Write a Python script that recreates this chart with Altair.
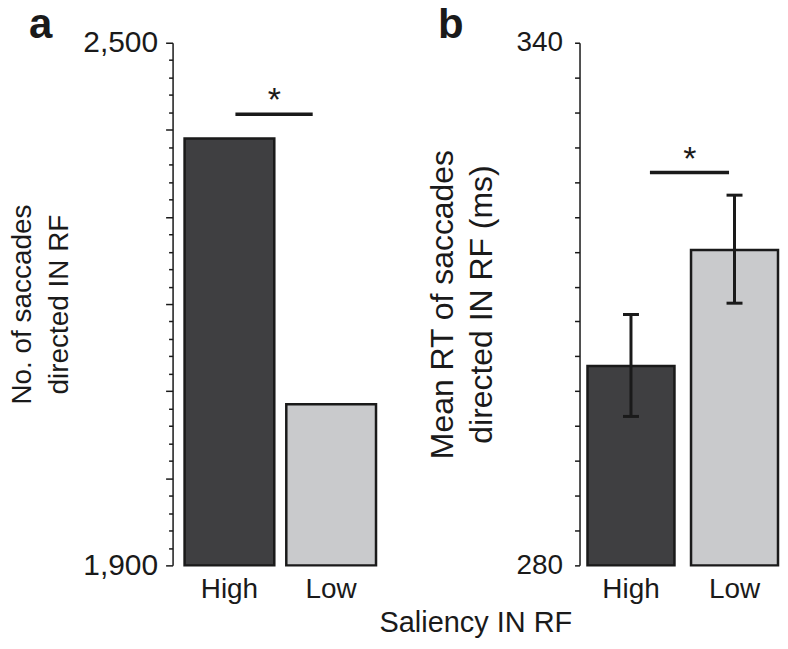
import altair as alt
import pandas as pd

# ---- data ----
categories = ["High", "Low"]
saccade_counts = [2390, 2085]
rt_means = [302.9, 316.2]
rt_err_low = [297.1, 310.1]
rt_err_high = [308.8, 322.5]
count_domain = [1900, 2500]
rt_domain = [280, 340]
count_axis_ticks = list(range(1900, 2501, 20))
rt_axis_ticks = list(range(280, 341, 4))
count_sig_level = [2418]
rt_sig_level = [325.1]
panel_letters = ["a", "b"]

FONT = "Liberation Sans"
DARK = "#3f3f41"
LIGHT = "#c9cacc"
INK = "#1a1a1a"

df_a = pd.DataFrame({"cond": categories, "value": saccade_counts})
df_b = pd.DataFrame({"cond": categories, "value": rt_means,
                     "lo": rt_err_low, "hi": rt_err_high})
sig_a = pd.DataFrame({"cond": [categories[0]], "end": [categories[1]], "y": count_sig_level})
sig_b = pd.DataFrame({"cond": [categories[0]], "end": [categories[1]], "y": rt_sig_level})

color = alt.Color("cond:N", scale=alt.Scale(domain=categories, range=[DARK, LIGHT]), legend=None)


def x_enc(scale):
    return alt.X("cond:N", sort=categories, scale=scale,
                 axis=alt.Axis(title=None, domain=False, ticks=False, labelAngle=0,
                               labelFontSize=28, labelPadding=10, labelColor=INK,
                               labelFont=FONT))


def y_axis(values, lo, hi, title, tfs, tlh, tpad, lfs, lpad, major=None):
    kw = dict(values=values,
              labelExpr=f"datum.value == {lo} || datum.value == {hi} ? format(datum.value, ',') : ''",
              title=title, titleFontSize=tfs, titleFontWeight="normal", titleFont=FONT,
              titleLineHeight=tlh, titlePadding=tpad, titleColor=INK,
              labelFontSize=lfs, labelPadding=lpad, labelFont=FONT, labelColor=INK,
              labelOverlap=False, grid=False, domainColor=INK, tickColor=INK,
              domainWidth=1.5, tickWidth=1.5)
    if major:
        kw["tickSize"] = {"condition": {"test": f"datum.value % {major} === 0", "value": 7}, "value": 4}
    else:
        kw["tickSize"] = 5
    return alt.Axis(**kw)


def letter(txt, xpix):
    return alt.Chart(pd.DataFrame({"label": [txt]})).mark_text(
        fontSize=42, fontWeight="bold", font=FONT, color=INK, align="left",
        baseline="alphabetic").encode(x=alt.value(xpix), y=alt.value(-5), text="label:N")


# ---------- panel a ----------
scale_a = alt.Scale(paddingInner=0.118, paddingOuter=0.118)
yscale_a = alt.Scale(domain=count_domain, zero=False, nice=False)
axis_a = y_axis(count_axis_ticks, 1900, 2500, ["No. of saccades", "directed IN RF"],
                28, 37, 9, 30, 8, 100)


def ya(field):
    return alt.Y(field, scale=yscale_a, axis=axis_a)


bars_a = alt.Chart(df_a).mark_bar(stroke=INK, strokeWidth=2.5).encode(
    x=x_enc(scale_a), y=ya("value:Q"), y2=alt.datum(count_domain[0]), color=color)
rule_a = alt.Chart(sig_a).mark_rule(strokeWidth=3.5, color=INK, xOffset=6, x2Offset=-18.5).encode(
    x=x_enc(scale_a), x2="end:N", y=ya("y:Q"))
star_a = alt.Chart(sig_a).mark_text(text="*", fontSize=34, font=FONT, color=INK, dx=45, dy=-3,
                                    baseline="alphabetic").encode(
    x=x_enc(scale_a), y=ya("y:Q"))

panel_a = alt.layer(bars_a, rule_a, star_a, letter(panel_letters[0], -144)).properties(
    width=216, height=524)

# ---------- panel b ----------
scale_b = alt.Scale(paddingInner=0.16, paddingOuter=0.0385, align=1)
yscale_b = alt.Scale(domain=rt_domain, zero=False, nice=False)
axis_b = y_axis(rt_axis_ticks, 280, 340, ["Mean RT of saccades", "directed IN RF (ms)"],
                32, 39, 18, 28, 12)


def yb(field):
    return alt.Y(field, scale=yscale_b, axis=axis_b)


bars_b = alt.Chart(df_b).mark_bar(stroke=INK, strokeWidth=2.5).encode(
    x=x_enc(scale_b), y=yb("value:Q"), y2=alt.datum(rt_domain[0]), color=color)
err_b = alt.Chart(df_b).mark_rule(strokeWidth=3, color=INK).encode(
    x=x_enc(scale_b), y=yb("lo:Q"), y2="hi:Q")
cap_lo = alt.Chart(df_b).mark_tick(size=16, thickness=3, color=INK, opacity=1).encode(
    x=x_enc(scale_b), y=yb("lo:Q"))
cap_hi = alt.Chart(df_b).mark_tick(size=16, thickness=3, color=INK, opacity=1).encode(
    x=x_enc(scale_b), y=yb("hi:Q"))
rule_b = alt.Chart(sig_b).mark_rule(strokeWidth=3.5, color=INK, xOffset=19, x2Offset=-5.5).encode(
    x=x_enc(scale_b), x2="end:N", y=yb("y:Q"))
star_b = alt.Chart(sig_b).mark_text(text="*", fontSize=34, font=FONT, color=INK, dx=59, dy=-3,
                                    baseline="alphabetic").encode(
    x=x_enc(scale_b), y=yb("y:Q"))

panel_b = alt.layer(bars_b, err_b, cap_lo, cap_hi, rule_b, star_b,
                    letter(panel_letters[1], -142)).properties(width=199, height=524)

chart = alt.hconcat(panel_a, panel_b, spacing=38).properties(
    title=alt.TitleParams("Saliency IN RF", orient="bottom", anchor="middle", fontSize=29,
                          fontWeight="normal", font=FONT, color=INK, dx=82, offset=6),
    padding={"left": 0, "top": -5, "right": 0, "bottom": 0},
).configure_view(stroke="transparent", strokeWidth=0)

chart.save("out.html", embed_options={"renderer": "svg", "actions": False})
